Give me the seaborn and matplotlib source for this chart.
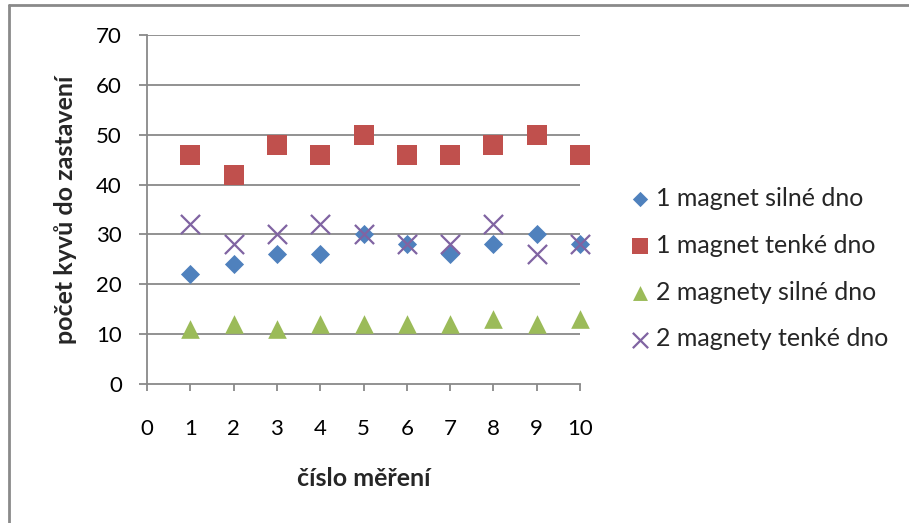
import matplotlib
matplotlib.use("Agg")
import matplotlib.pyplot as plt
from matplotlib.lines import Line2D
import seaborn as sns
import pandas as pd

# measurement numbers and the four series
mereni = [1, 2, 3, 4, 5, 6, 7, 8, 9, 10]
silne_1 = [22, 24, 26, 26, 30, 28, 26, 28, 30, 28]
tenke_1 = [46, 42, 48, 46, 50, 46, 46, 48, 50, 46]
silne_2 = [11, 12, 11, 12, 12, 12, 12, 13, 12, 13]
tenke_2 = [32, 28, 30, 32, 30, 28, 28, 32, 26, 28]

names = ["1 magnet silné dno", "1 magnet tenké dno",
         "2 magnety silné dno", "2 magnety tenké dno"]
values = [silne_1, tenke_1, silne_2, tenke_2]
colors = ["#4F81BD", "#C0504D", "#9BBB59", "#8064A2"]
markers = ["D", "s", "^", "x"]
sizes = [95, 200, 180, 190]

y_ticks = [0, 10, 20, 30, 40, 50, 60, 70]
x_ticks = [0, 1, 2, 3, 4, 5, 6, 7, 8, 9, 10]

df = pd.DataFrame({
    "mereni": mereni * 4,
    "pocet": sum(values, []),
    "serie": [n for n in names for _ in mereni],
})

sns.set_theme(style="white")
plt.rcParams["font.family"] = ["Lato", "DejaVu Sans"]

fig = plt.figure(figsize=(9.09, 5.23), dpi=100)
ax = fig.add_axes([147 / 909, 1 - 384 / 523, (580 - 147) / 909, (384 - 35) / 523])

grid_col = "#898989"
for yt in y_ticks[1:]:
    ax.axhline(yt, color=grid_col, lw=1.3, zorder=0)

for name, col, mk, s in zip(names, colors, markers, sizes):
    sub = df[df["serie"] == name]
    kw = dict(linewidth=1.6) if mk == "x" else dict(linewidth=0)
    sns.scatterplot(data=sub, x="mereni", y="pocet", marker=mk, color=col,
                    s=s, ax=ax, label=name, zorder=3, **kw)
for coll in ax.collections:
    coll.set_clip_on(False)

ax.set_xlim(0, 10)
ax.set_ylim(0, 70)
ax.set_xticks(x_ticks)
ax.set_yticks(y_ticks)
ax.tick_params(axis="both", labelsize=16, colors="black")
ax.tick_params(axis="x", direction="out", length=5, width=1.3, color=grid_col, pad=20)
ax.tick_params(axis="y", direction="out", length=6, width=1.3, color=grid_col, pad=12)
ax.tick_params(left=True, bottom=True)

for side in ["top", "right"]:
    ax.spines[side].set_visible(False)
for side in ["left", "bottom"]:
    ax.spines[side].set_color(grid_col)
    ax.spines[side].set_linewidth(1.3)

ax.set_xlabel("číslo měření", fontsize=18, fontweight="bold", labelpad=20)
ax.set_ylabel("počet kyvů do zastavení", fontsize=18, fontweight="bold", labelpad=14)

leg = ax.legend(loc="upper left", bbox_to_anchor=(621 / 909, 1 - 177 / 523),
                bbox_transform=fig.transFigure, frameon=False, fontsize=18,
                handlelength=0.7, handletextpad=0.3, labelspacing=0.95,
                markerscale=0.8, borderaxespad=0)

# chart-area frame
fig.add_artist(Line2D([9 / 909, 9 / 909], [0, 1 - 5 / 523], color="#8a8a8a",
                      lw=2, transform=fig.transFigure))
fig.add_artist(Line2D([9 / 909, 1], [1 - 5 / 523, 1 - 5 / 523], color="#8a8a8a",
                      lw=2, transform=fig.transFigure))

fig.savefig("out.png", dpi=100)
